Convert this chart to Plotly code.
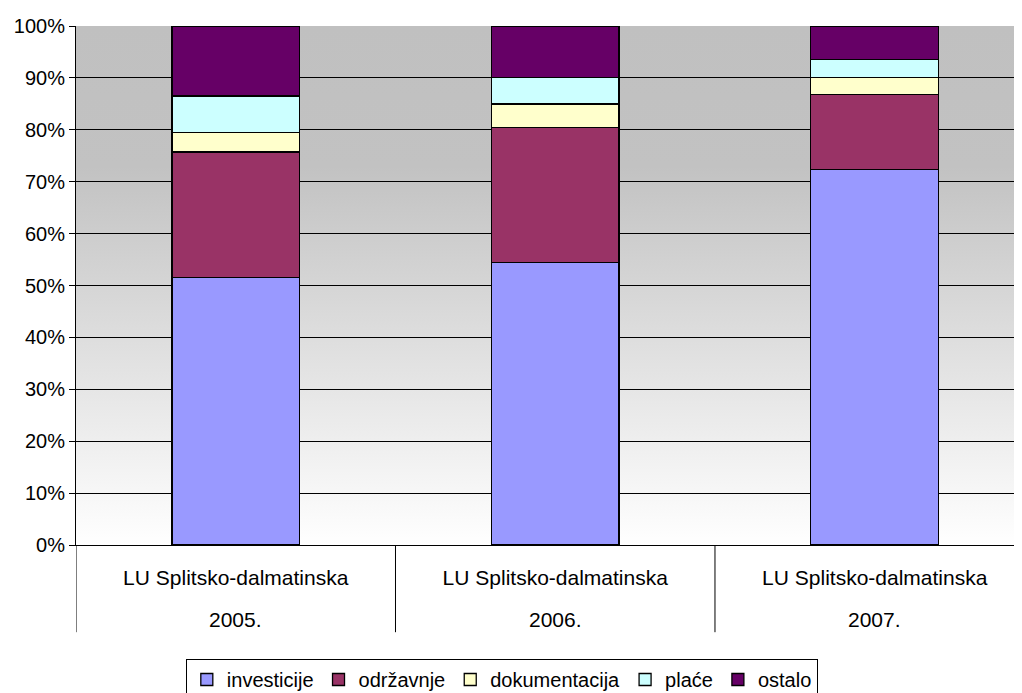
import base64
import plotly.graph_objects as go

# ---- data ----
categories = ["2005.", "2006.", "2007."]
category_label = "LU Splitsko-dalmatinska"
series_names = ["investicije", "održavnje", "dokumentacija", "plaće", "ostalo"]
investicije = [51.6, 54.5, 72.4]
odrzavnje = [24.1, 26.0, 14.4]
dokumentacija = [3.8, 4.5, 3.3]
place = [7.0, 5.1, 3.5]
ostalo = [13.5, 9.9, 6.4]
series_values = [investicije, odrzavnje, dokumentacija, place, ostalo]
colors = ["#9999FF", "#993366", "#FFFFCC", "#CCFFFF", "#660066"]
y_ticks = list(range(0, 101, 10))

FONT = "Liberation Sans, Arial, sans-serif"

fig = go.Figure()
for name, vals, col in zip(series_names, series_values, colors):
    fig.add_trace(go.Bar(
        name=name, x=categories, y=vals, width=0.4,
        marker=dict(color=col, line=dict(color="black", width=1.3)),
    ))

# background gradient (Excel-style)
svg = (
    '<svg xmlns="http://www.w3.org/2000/svg" width="100" height="100" preserveAspectRatio="none">'
    '<defs><linearGradient id="g" x1="0" y1="0" x2="0" y2="1">'
    '<stop offset="0" stop-color="#c0c0c0"/>'
    '<stop offset="0.27" stop-color="#c2c2c2"/>'
    '<stop offset="1" stop-color="#ffffff"/>'
    '</linearGradient></defs>'
    '<rect x="0" y="0" width="100" height="100" fill="url(#g)"/></svg>'
)
src = "data:image/svg+xml;base64," + base64.b64encode(svg.encode()).decode()

shapes = []
for xv in [-0.5, 0.5, 1.5]:
    shapes.append(dict(type="line", xref="x", yref="paper", x0=xv, x1=xv,
                       y0=0, y1=-0.168, line=dict(color="black", width=1)))

annotations = []
for i, c in enumerate(categories):
    annotations.append(dict(x=i, xref="x", y=-0.1445, yref="paper", text=c,
                            showarrow=False, yanchor="middle", xanchor="center",
                            font=dict(family=FONT, size=21, color="black")))

# page body has an 8px default margin, so the figure is sized to fit the window
fig.update_layout(
    width=1014, height=685,
    margin=dict(l=68, r=0, t=18, b=148, autoexpand=False),
    barmode="stack",
    paper_bgcolor="white",
    plot_bgcolor="rgba(0,0,0,0)",
    font=dict(family=FONT, size=20, color="black"),
    images=[dict(source=src, xref="paper", yref="paper", x=0, y=1, sizex=1, sizey=1,
                 sizing="stretch", layer="below", xanchor="left", yanchor="top")],
    shapes=shapes,
    annotations=annotations,
    showlegend=True,
    legend=dict(orientation="h", xref="container", x=0.487, xanchor="center",
                yref="container", y=0.0496, yanchor="top",
                bordercolor="black", borderwidth=1, bgcolor="white",
                font=dict(family=FONT, size=20, color="black"),
                itemwidth=30, traceorder="normal"),
    bargap=0.6,
)
fig.update_xaxes(
    range=[-0.5, 2.461], type="category", automargin=False,
    tickvals=categories, ticktext=[category_label] * 3,
    ticks="", showgrid=False, showline=True, linecolor="black", linewidth=1,
    ticklabelstandoff=14, tickfont=dict(family=FONT, size=21, color="black"),
)
fig.update_yaxes(
    range=[0, 100], tickvals=y_ticks, ticktext=[f"{v}%" for v in y_ticks],
    automargin=False,
    showgrid=True, gridcolor="black", gridwidth=1,
    showline=True, linecolor="black", linewidth=1,
    ticks="outside", ticklen=6, tickcolor="black",
    zeroline=False, tickfont=dict(family=FONT, size=20, color="black"),
)

fig.write_html("out.html")
